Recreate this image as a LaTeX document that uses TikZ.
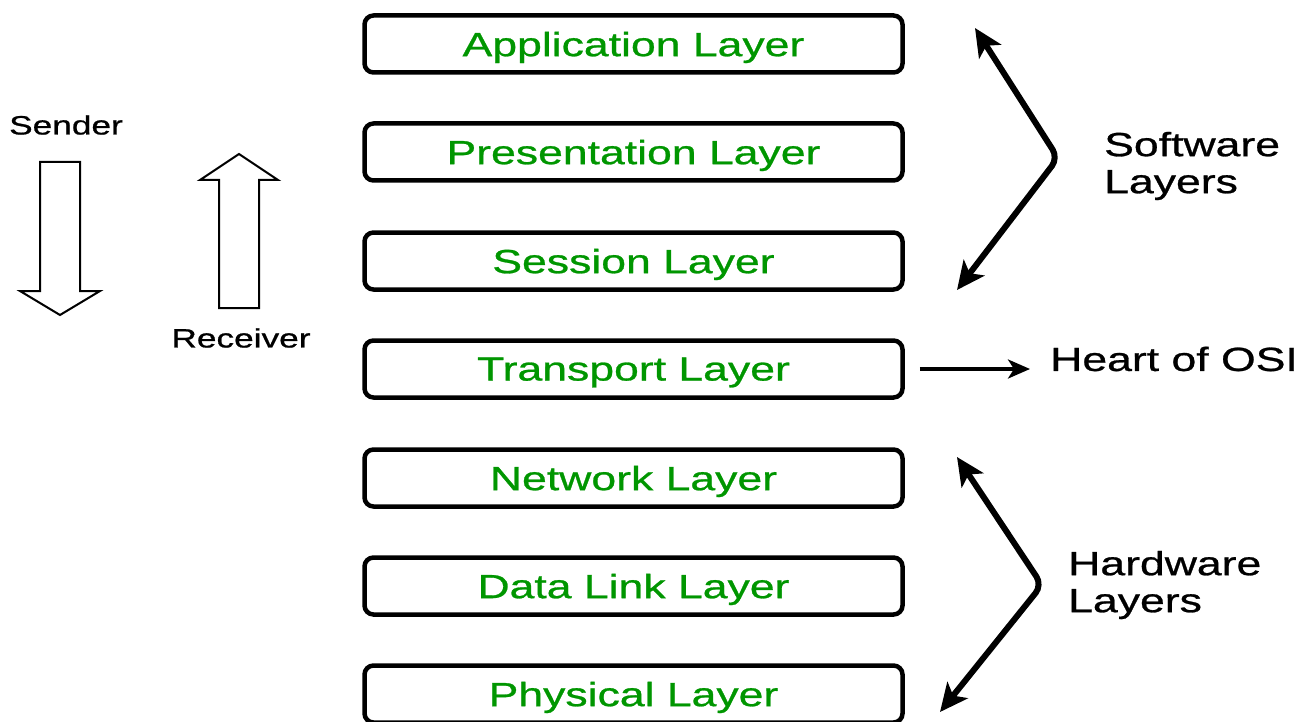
\documentclass[tikz,border=0pt]{standalone}
\usepackage{fontspec}
\setmainfont{Liberation Sans}[FakeStretch=1.33,FakeBold=0.8]
\usetikzlibrary{arrows.meta}
\definecolor{lgreen}{RGB}{0,150,0}
\begin{document}
\begin{tikzpicture}[x=1pt,y=-1pt,
  layer/.style={draw, line width=4.5pt, rounded corners=9pt, minimum width=538pt,
    minimum height=57pt, inner sep=0pt, text=lgreen, text depth=0pt,
    font=\fontsize{33.5pt}{40pt}\selectfont},
  biglbl/.style={inner sep=0pt, align=left, anchor=west, font=\fontsize{33.5pt}{37pt}\selectfont},
  smalllbl/.style={inner sep=0pt, font=\fontsize{26.5pt}{30pt}\selectfont},
  hollow/.style={draw, line width=2pt, fill=white, line join=miter},
  brace/.style={line width=6pt, rounded corners=10pt,
    {Stealth[length=28pt,width=26pt,inset=7pt]}-{Stealth[length=28pt,width=26pt,inset=7pt]}},
]
\clip (0,0) rectangle (1313,722);
\fill[white] (0,0) rectangle (1313,722);
% layers
\node[layer] (app)  at (633.5,44)  {Application Layer};
\node[layer] (pres) at (633.5,152) {Presentation Layer};
\node[layer] (sess) at (633.5,261) {Session Layer};
\node[layer] (tran) at (633.5,369) {Transport Layer};
\node[layer] (netw) at (633.5,478) {Network Layer};
\node[layer] (dlink) at (633.5,586) {Data Link Layer};
\node[layer] (phys) at (633.5,694) {Physical Layer};
% sender / receiver
\node[smalllbl] (sender) at (66,125) {Sender};
\node[smalllbl] (receiver) at (241,338) {Receiver};
\draw[hollow] (40,162) -- (80,162) -- (80,291) -- (100,291) -- (60,315) -- (20,291) -- (40,291) -- cycle;
\draw[hollow] (219,308) -- (259,308) -- (259,180) -- (278,180) -- (239,154) -- (200,180) -- (219,180) -- cycle;
% software layers
\coordinate (s1) at (975,28);
\coordinate (s2) at (1058,158);
\coordinate (s3) at (957,290);
\draw[brace] (s1) -- (s2) -- (s3);
\node[biglbl] (soft) at (1104,166) {Software\\Layers};
% heart
\node[biglbl] (heart) at (1050,359) {Heart of OSI};
\draw[line width=3.5pt, -{Stealth[length=22pt,width=19pt,inset=6pt]}] ([xshift=15pt]tran.east) -- ([xshift=-20pt]heart.west |- tran.east);
% hardware layers
\coordinate (h1) at (957,457);
\coordinate (h2) at (1042,585);
\coordinate (h3) at (940,712);
\draw[brace] (h1) -- (h2) -- (h3);
\node[biglbl] (hard) at (1068,585) {Hardware\\Layers};
\end{tikzpicture}
\end{document}
